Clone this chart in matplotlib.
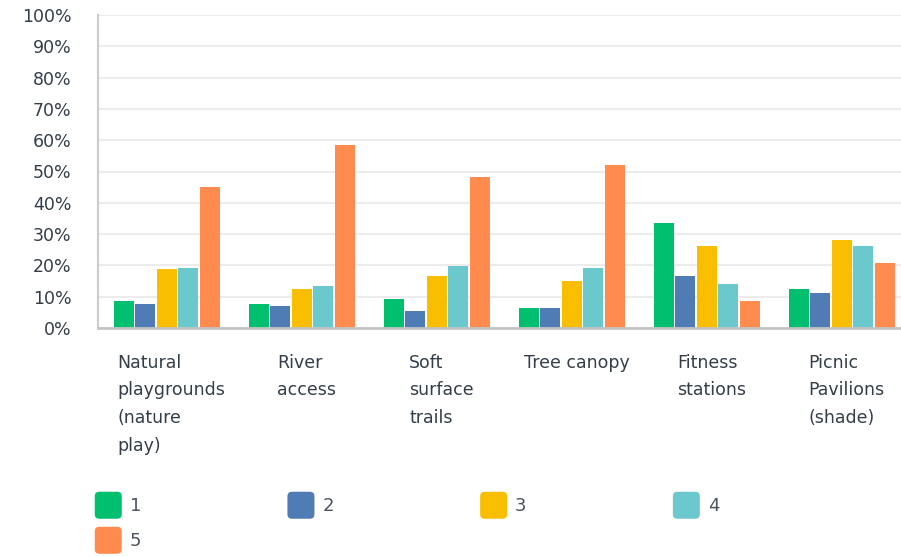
import matplotlib.pyplot as plt
import numpy as np
from matplotlib.patches import FancyBboxPatch

# Share of ratings 1-5 for each amenity (percent)
categories = ['Natural\nplaygrounds\n(nature\nplay)', 'River\naccess', 'Soft\nsurface\ntrails',
              'Tree canopy', 'Fitness\nstations', 'Picnic\nPavilions\n(shade)']
ratings = ['1', '2', '3', '4', '5']
r1 = [8.6, 7.7, 9.3, 6.4, 33.5, 12.5]
r2 = [7.7, 7.0, 5.5, 6.4, 16.6, 11.2]
r3 = [18.8, 12.4, 16.6, 15.0, 26.2, 28.1]
r4 = [19.2, 13.4, 19.8, 19.2, 14.1, 26.2]
r5 = [45.0, 58.4, 48.2, 52.0, 8.6, 20.8]
yticks = list(range(0, 101, 10))

colors = ['#00bf6f', '#507cb6', '#f9be00', '#6bc8cd', '#ff8b4f']
text_color = '#333e48'

fig = plt.figure(figsize=(9.01, 5.57), dpi=100)
W, H = 901, 557
# the plot area runs a little past the right edge of the figure
ax = fig.add_axes([98 / W, 1 - 328 / H, 810 / W, 313 / H])

x = np.arange(len(categories))
bw = 0.148
step = 0.159
series = [r1, r2, r3, r4, r5]
for k, vals in enumerate(series):
    ax.bar(x + 0.01 + (k - 2) * step, vals, width=bw, color=colors[k], zorder=3)

ax.set_xlim(-0.5, len(categories) - 0.5)
ax.set_ylim(0, 100)
ax.set_yticks(yticks)
ax.set_yticklabels([f'{t}%' for t in yticks], fontsize=12.5, color=text_color)
ax.tick_params(axis='y', length=0, pad=19)
ax.set_xticks([])
ax.grid(axis='y', color='#ececec', linewidth=1.5, zorder=0)

for s in ['top', 'right']:
    ax.spines[s].set_visible(False)
ax.spines['left'].set_color('#cccccc')
ax.spines['left'].set_linewidth(1.5)
ax.spines['bottom'].set_color('#c4c4c4')
ax.spines['bottom'].set_linewidth(2)
ax.spines['bottom'].set_zorder(4)

# category labels under each group
for i, lab in enumerate(categories):
    ax.text(i + 0.045, -0.083, lab, transform=ax.get_xaxis_transform(),
            ha='center', va='top', multialignment='left',
            fontsize=12.5, color=text_color, linespacing=1.68)

# legend with rounded swatches, four per row
sq = 26.5
for k, lab in enumerate(ratings):
    col, row = k % 4, k // 4
    x0 = 95 + col * 192.7
    y0 = 492 + row * 35
    patch = FancyBboxPatch(((x0 + 2) / W, 1 - (y0 + sq - 2) / H),
                           (sq - 4) / W, (sq - 4) / H,
                           boxstyle='round,pad=0.0025,rounding_size=0.005',
                           transform=fig.transFigure, facecolor=colors[k],
                           edgecolor='none', mutation_aspect=W / H)
    fig.patches.append(patch)
    fig.text((x0 + sq + 8) / W, 1 - (y0 + sq / 2 + 1) / H, lab,
             ha='left', va='center', fontsize=13, color='#4a535c')

fig.savefig('out.png', dpi=100)
